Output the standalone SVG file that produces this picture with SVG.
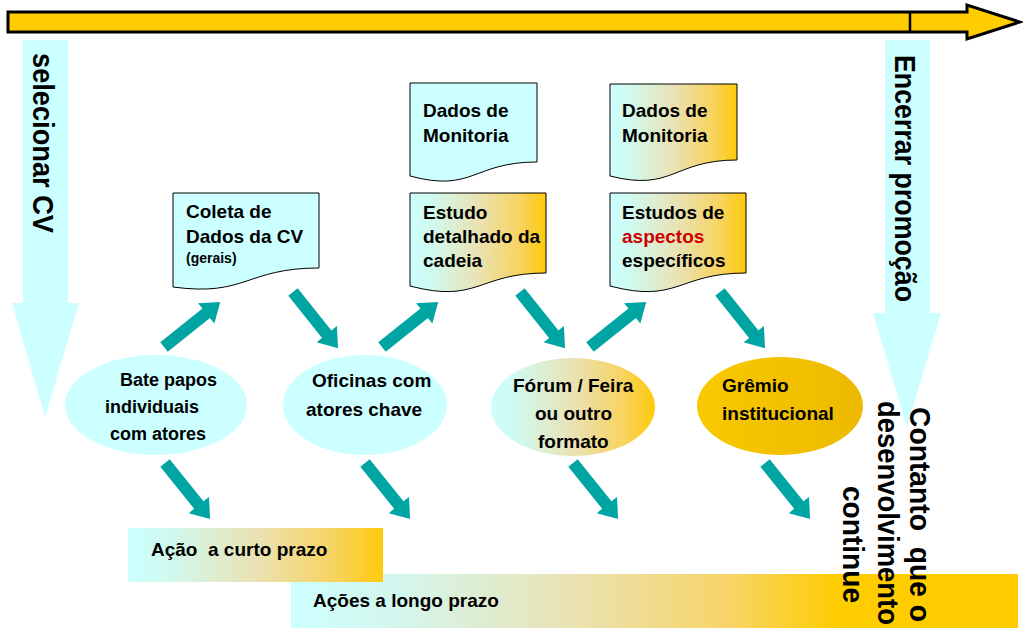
<svg xmlns="http://www.w3.org/2000/svg" xmlns:xlink="http://www.w3.org/1999/xlink" width="1023" height="633" viewBox="0 0 1023 633">
<style>
text{font-family:"Liberation Sans",Arial,sans-serif;font-weight:bold;fill:#000;}
.t19{font-size:19px;}
.t18{font-size:18px;}
.t14{font-size:14px;}
.v{font-size:30px;white-space:pre;}
.doc{stroke:#000;stroke-width:1;}
.cy{fill:#CCFFFF;}
.teal{fill:#00A5A3;}
.red{fill:#CC0000;}
</style>
<defs>
<linearGradient id="gDoc" x1="0" y1="0" x2="1" y2="0">
<stop offset="0" stop-color="#CCFFFF"/>
<stop offset="0.15" stop-color="#CFFAF0"/>
<stop offset="0.5" stop-color="#EAE2B4"/>
<stop offset="0.8" stop-color="#F7D462"/>
<stop offset="1" stop-color="#FFC90A"/>
</linearGradient>
<linearGradient id="gBar2" gradientUnits="userSpaceOnUse" x1="291" y1="0" x2="840" y2="0">
<stop offset="0" stop-color="#CCFFFF"/>
<stop offset="0.2" stop-color="#D4F6EC"/>
<stop offset="0.5" stop-color="#E9E3B6"/>
<stop offset="0.8" stop-color="#F7D466"/>
<stop offset="1" stop-color="#FFCC00"/>
</linearGradient>
<linearGradient id="gGremio" x1="0" y1="0" x2="1" y2="0">
<stop offset="0" stop-color="#F9C900"/>
<stop offset="1" stop-color="#EDB900"/>
</linearGradient>
<path id="ta" d="M0,-6 L54,-6 L54,-13 L72,0 L54,13 L54,6 L0,6 Z"/>
</defs>

<g id="timeline">
<path d="M8,12 H967 V5 L1020,22 L967,39 V32 H8 Z" fill="#FFCC00" stroke="#000" stroke-width="3" stroke-linejoin="miter"/>
<line x1="910" y1="12" x2="910" y2="32" stroke="#000" stroke-width="2.5"/>
</g>

<g id="bar-longo">
<rect x="291" y="574" width="727" height="54" fill="url(#gBar2)"/>
<text class="t19" x="313" y="607">Ações a longo prazo</text>
</g>
<g id="bar-curto">
<rect x="128" y="528" width="255" height="54" fill="url(#gDoc)"/>
<text class="t19" x="151" y="556" xml:space="preserve">Ação  a curto prazo</text>
</g>

<g id="selecionar">
<path class="cy" d="M23,40 H68 V303 H79 L45,417 L12,303 H23 Z"/>
<text class="v" transform="translate(33,53) rotate(90)" textLength="180" lengthAdjust="spacingAndGlyphs">selecionar CV</text>
</g>

<g id="encerrar">
<path class="cy" d="M885,40 H930 V313 H941 L907,427 L873,313 H885 Z"/>
<text class="v" transform="translate(895,55) rotate(90)" textLength="247" lengthAdjust="spacingAndGlyphs">Encerrar promoção</text>
</g>

<g id="contanto">
<text class="v" transform="translate(910,407) rotate(90)" textLength="215" lengthAdjust="spacingAndGlyphs">Contanto  que o</text>
<text class="v" transform="translate(878,401) rotate(90)" textLength="224" lengthAdjust="spacingAndGlyphs">desenvolvimento</text>
<text class="v" transform="translate(843,486) rotate(90)" textLength="117" lengthAdjust="spacingAndGlyphs">continue</text>
</g>

<g id="doc-coleta">
<path class="doc cy" d="M173,193 H319 V268 C246,268 246,297 173,287 Z"/>
<text class="t19" x="186" y="218">Coleta de</text>
<text class="t19" x="186" y="243">Dados da CV</text>
<text class="t14" x="186" y="263">(gerais)</text>
</g>

<g id="doc-monitoria1">
<path class="doc cy" d="M410,83 H537 V162 C473,162 473,193 410,176 Z"/>
<text class="t19" x="423" y="117">Dados de</text>
<text class="t19" x="423" y="142">Monitoria</text>
</g>

<g id="doc-estudo">
<path class="doc" fill="url(#gDoc)" d="M410,193 H546 V273 C478,273 478,304 410,286 Z"/>
<text class="t19" x="423" y="219">Estudo</text>
<text class="t19" x="423" y="243">detalhado da</text>
<text class="t19" x="423" y="267">cadeia</text>
</g>

<g id="doc-monitoria2">
<path class="doc" fill="url(#gDoc)" d="M610,84 H737 V160 C673,160 673,192 610,176 Z"/>
<text class="t19" x="622" y="117">Dados de</text>
<text class="t19" x="622" y="142">Monitoria</text>
</g>

<g id="doc-estudos">
<path class="doc" fill="url(#gDoc)" d="M610,193 H746 V273 C678,273 678,304 610,286 Z"/>
<text class="t19" x="622" y="219">Estudos de</text>
<text class="t19 red" x="622" y="243">aspectos</text>
<text class="t19" x="622" y="267">específicos</text>
</g>

<g id="node-bate">
<ellipse class="cy" cx="156" cy="405" rx="91" ry="50"/>
<text class="t18" x="120" y="386">Bate papos</text>
<text class="t18" x="105" y="413">individuais</text>
<text class="t18" x="110" y="440">com atores</text>
</g>

<g id="node-oficinas">
<ellipse class="cy" cx="365" cy="405" rx="82" ry="50"/>
<text class="t19" x="312" y="387">Oficinas com</text>
<text class="t19" x="306" y="416">atores chave</text>
</g>

<g id="node-forum">
<ellipse fill="url(#gDoc)" cx="573" cy="407" rx="82" ry="49"/>
<text class="t19" x="513" y="392">Fórum / Feira</text>
<text class="t19" x="535" y="420">ou outro</text>
<text class="t19" x="538" y="448">formato</text>
</g>

<g id="node-gremio">
<ellipse fill="url(#gGremio)" cx="780" cy="406" rx="83" ry="49"/>
<text class="t19" x="722" y="392">Grêmio</text>
<text class="t19" x="722" y="420">institucional</text>
</g>

<g id="connectors" class="teal">
<use xlink:href="#ta" transform="translate(164,347) rotate(-38.6)"/>
<use xlink:href="#ta" transform="translate(382,347) rotate(-38.6)"/>
<use xlink:href="#ta" transform="translate(590,347) rotate(-38.6)"/>
<use xlink:href="#ta" transform="translate(293,292) rotate(51.3)"/>
<use xlink:href="#ta" transform="translate(520,292) rotate(51.3)"/>
<use xlink:href="#ta" transform="translate(720,292) rotate(51.3)"/>
<use xlink:href="#ta" transform="translate(165,463) rotate(51.2)"/>
<use xlink:href="#ta" transform="translate(365,463) rotate(51.2)"/>
<use xlink:href="#ta" transform="translate(573,463) rotate(51.2)"/>
<use xlink:href="#ta" transform="translate(765,463) rotate(51.2)"/>
</g>
</svg>
